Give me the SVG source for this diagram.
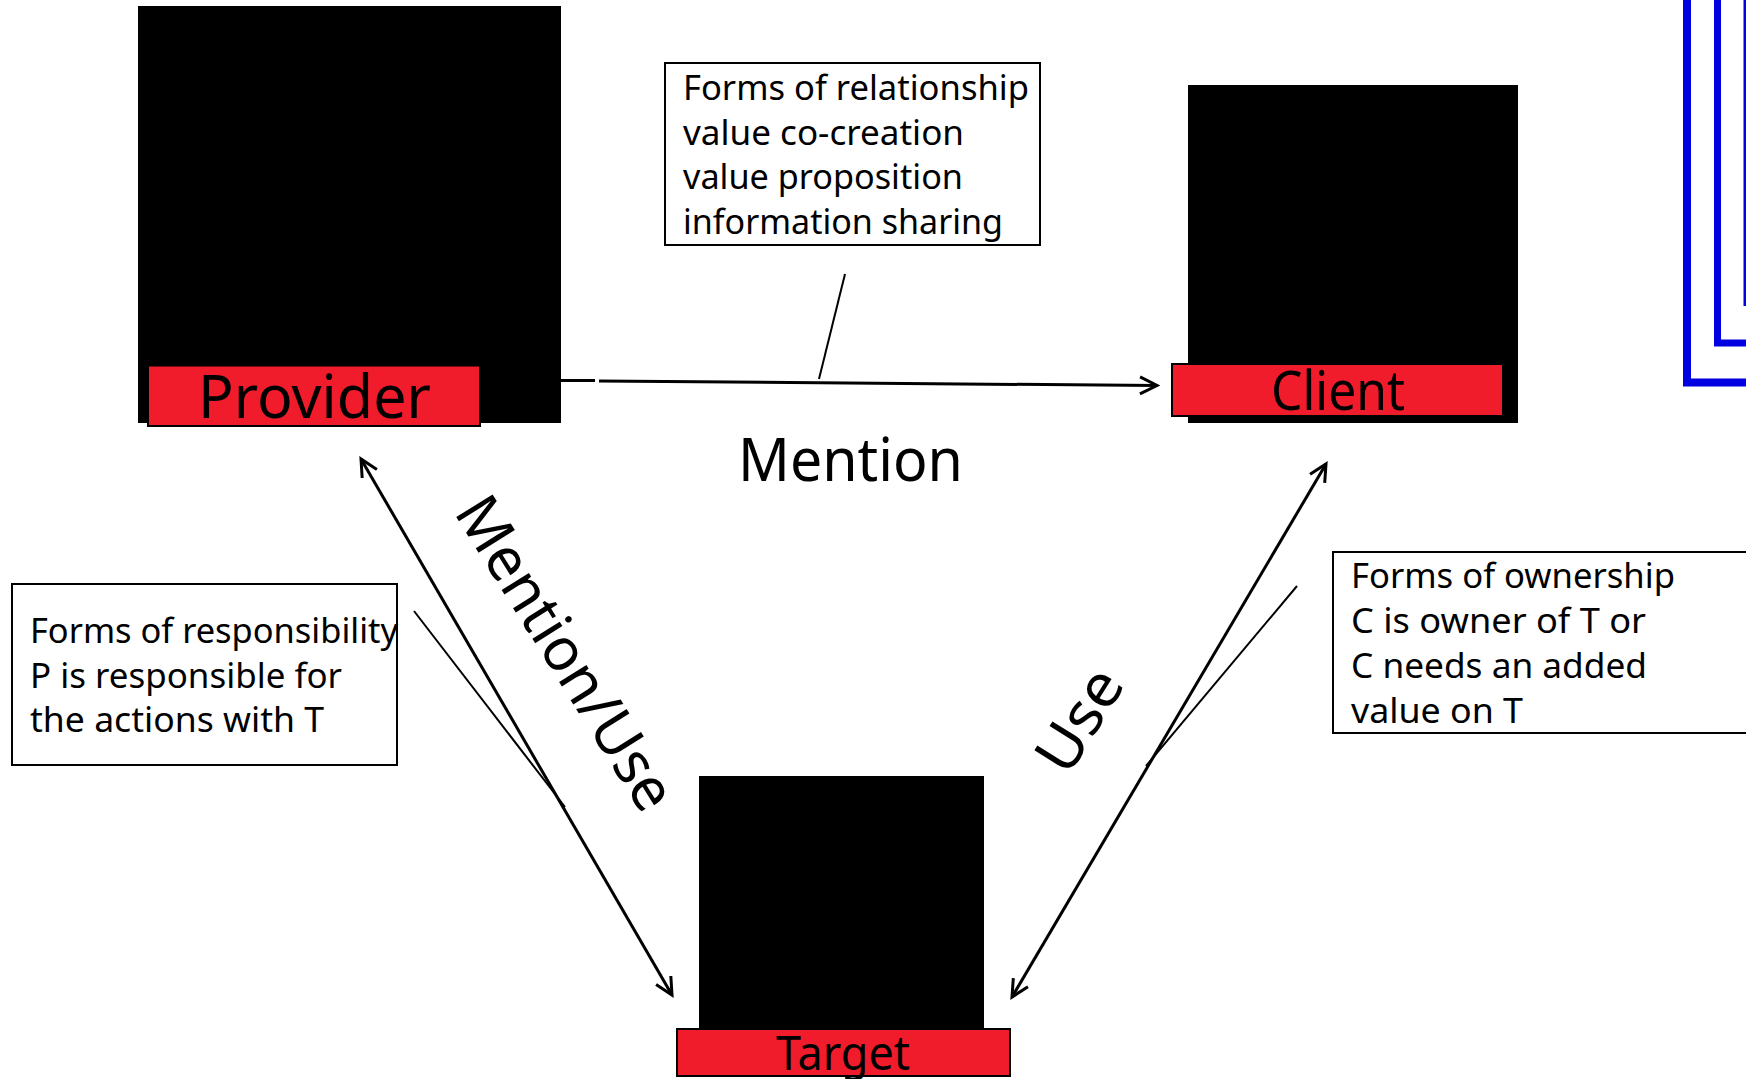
<svg xmlns="http://www.w3.org/2000/svg" width="1746" height="1079" viewBox="0 0 1746 1079">
<style>
text{font-family:"Noto Sans","DejaVu Sans",sans-serif;fill:#000}
.s{font-size:35px}
.b{font-size:60px}
.m{font-size:54px}
.t{font-size:48px}
.box{fill:#fff;stroke:#000;stroke-width:2}
.red{fill:#f11c2b;stroke:#000;stroke-width:2}
.ln{fill:none;stroke:#000;stroke-width:3}
.th{fill:none;stroke:#000;stroke-width:2}
.blue{fill:none;stroke:#0000e0}
</style>
<defs>
<marker id="a" markerUnits="userSpaceOnUse" markerWidth="24" markerHeight="24" refX="20" refY="12" orient="auto-start-reverse"><path d="M3 3.500L20 12L3 20.500" fill="none" stroke="#000" stroke-width="3"/></marker>
</defs>
<rect width="1746" height="1079" fill="#fff"/>
<g id="blue-frames">
<path class="blue" stroke-width="8" d="M1687 0V382.500H1746"/>
<path class="blue" stroke-width="7" d="M1717.500 0V343H1746"/>
<path class="blue" stroke-width="3" d="M1745 0V306"/>
</g>
<g id="provider"><rect x="138" y="6" width="423" height="417"/><rect class="red" x="148" y="365.500" width="332" height="60.500"/><text class="b" x="198" y="418" textLength="233" lengthAdjust="spacingAndGlyphs">Provider</text></g>
<g id="client"><rect x="1188" y="85" width="330" height="338"/><rect class="red" x="1172" y="364" width="331" height="52"/><text class="m" x="1271" y="410" textLength="134" lengthAdjust="spacingAndGlyphs">Client</text></g>
<g id="target"><rect x="699" y="776" width="285" height="253"/><rect class="red" x="677" y="1029" width="333" height="47"/><text class="t" x="776" y="1070" textLength="134" lengthAdjust="spacingAndGlyphs">Target</text></g>
<g id="connectors">
<path class="ln" d="M561 380.500H595"/>
<path class="ln" d="M599 381L1157 385.500" marker-end="url(#a)"/>
<path class="ln" d="M361 459L672 995" marker-start="url(#a)" marker-end="url(#a)"/>
<path class="ln" d="M1326 464L1012 997" marker-start="url(#a)" marker-end="url(#a)"/>
<path class="th" d="M845 274L819 379"/>
<path class="th" d="M414 611L565 807"/>
<path class="th" d="M1297 586L1146 766"/>
</g>
<g id="note-relationship"><rect class="box" x="665" y="63" width="375" height="182"/>
<text class="s" x="683" y="100" textLength="346" lengthAdjust="spacingAndGlyphs">Forms of relationship</text>
<text class="s" x="683" y="145" textLength="281" lengthAdjust="spacingAndGlyphs">value co-creation</text>
<text class="s" x="683" y="189" textLength="280" lengthAdjust="spacingAndGlyphs">value proposition</text>
<text class="s" x="683" y="234" textLength="320" lengthAdjust="spacingAndGlyphs">information sharing</text></g>
<g id="note-responsibility"><rect class="box" x="12" y="584" width="385" height="181"/>
<text class="s" x="30" y="643" textLength="368" lengthAdjust="spacingAndGlyphs">Forms of responsibility</text>
<text class="s" x="30" y="688" textLength="312" lengthAdjust="spacingAndGlyphs">P is responsible for</text>
<text class="s" x="30" y="732" textLength="294" lengthAdjust="spacingAndGlyphs">the actions with T</text></g>
<g id="note-ownership"><rect class="box" x="1333" y="552" width="440" height="181"/>
<text class="s" x="1351" y="588" textLength="324" lengthAdjust="spacingAndGlyphs">Forms of ownership</text>
<text class="s" x="1351" y="633" textLength="295" lengthAdjust="spacingAndGlyphs">C is owner of T or</text>
<text class="s" x="1351" y="678" textLength="296" lengthAdjust="spacingAndGlyphs">C needs an added</text>
<text class="s" x="1351" y="723" textLength="172" lengthAdjust="spacingAndGlyphs">value on T</text></g>
<g id="edge-labels">
<text class="b" x="738" y="481" textLength="225" lengthAdjust="spacingAndGlyphs">Mention</text>
<text class="b" text-anchor="middle" transform="translate(548 664) rotate(58)" textLength="358" lengthAdjust="spacingAndGlyphs">Mention/Use</text>
<text class="b" text-anchor="middle" transform="translate(1097 731) rotate(-58)" textLength="110" lengthAdjust="spacingAndGlyphs">Use</text>
</g>
</svg>
